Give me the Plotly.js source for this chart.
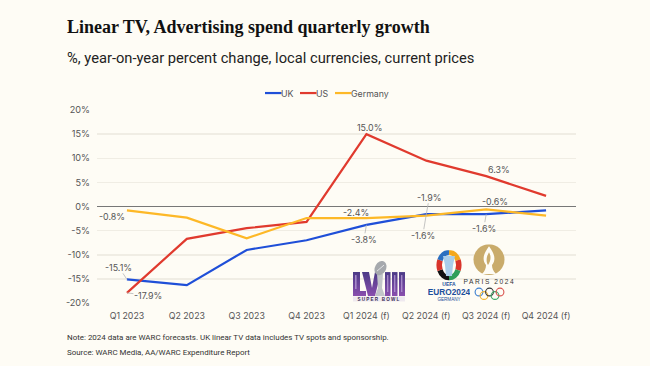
<!DOCTYPE html>
<html><head><meta charset="utf-8">
<script src="https://cdn.plot.ly/plotly-3.0.1.min.js"></script>
<style>html,body{margin:0;padding:0;background:#fefcf5}</style></head>
<body><div id="c" style="width:650px;height:366px"></div>
<script>
const categories=['Q1 2023','Q2 2023','Q3 2023','Q4 2023','Q1 2024 (f)','Q2 2024 (f)','Q3 2024 (f)','Q4 2024 (f)'];
const uk=[-15.1,-16.3,-9,-7,-3.8,-1.6,-1.6,-0.8];
const us=[-17.9,-6.7,-4.5,-3.2,15.0,9.5,6.3,2.2];
const germany=[-0.8,-2.3,-6.6,-2.4,-2.4,-1.9,-0.6,-1.9];
const yTicks=[-20,-15,-10,-5,0,5,10,15,20];
const W=650,H=366;
const F='Inter, "Noto Sans", sans-serif';
const R='Roboto, "Noto Sans", sans-serif';
const L={l:97,r:576,t:109.5,b:303};
const svgUri=s=>'data:image/svg+xml;utf8,'+encodeURIComponent(s);
const lvii=`<svg xmlns="http://www.w3.org/2000/svg" width="54" height="41" viewBox="0 0 54 41">
<defs><linearGradient id="g" x1="0" y1="0" x2="0" y2="1"><stop offset="0" stop-color="#4b3a86"/><stop offset="1" stop-color="#8a4fae"/></linearGradient></defs>
<g fill="url(#g)"><polygon points="1,11 8,11 8,30 14,30 14,35 1,35"/><polygon points="10,11 17,11 20,27 23,11 29,11 23,35 16,35"/><rect x="33" y="11" width="5.5" height="24"/><rect x="40" y="11" width="5.5" height="24"/><rect x="47" y="11" width="6" height="24"/></g>
<g fill="#b79bd6" opacity=".8"><rect x="3" y="14" width="1.6" height="14"/><rect x="35" y="14" width="1.4" height="17"/><rect x="42" y="14" width="1.4" height="17"/><rect x="49" y="14" width="1.4" height="17"/></g>
<rect x="1" y="35.5" width="52" height="5" fill="#efe9ef"/>
<text x="27" y="40" text-anchor="middle" font-family="Liberation Sans" font-weight="700" font-size="4.6" letter-spacing="1.2" fill="#3a2f55">SUPER BOWL</text>
<polygon points="25,13 31,13 30,27 33,35 23,35 26,27" fill="#c2c5c9"/>
<ellipse cx="28.5" cy="7" rx="5.5" ry="7.5" fill="#a6a9ad" transform="rotate(28 28.5 7)"/>
<line x1="25" y1="10" x2="32" y2="4" stroke="#e3e4e6" stroke-width="1"/></svg>`;
const euro=`<svg xmlns="http://www.w3.org/2000/svg" width="42" height="52" viewBox="0 0 42 52">
<ellipse cx="21" cy="15" rx="12" ry="15" fill="#fefcf5"/>
<g fill="none" stroke-width="5.5"><path d="M21 2.5 A9.5 12.5 0 0 1 30 10" stroke="#f4a81d"/><path d="M30 10 A9.5 12.5 0 0 1 30 20" stroke="#d9342b"/><path d="M30 20 A9.5 12.5 0 0 1 21 27.5" stroke="#2f9e5b"/><path d="M21 27.5 A9.5 12.5 0 0 1 12 20" stroke="#111"/><path d="M12 20 A9.5 12.5 0 0 1 12 10" stroke="#d9342b"/><path d="M12 10 A9.5 12.5 0 0 1 21 2.5" stroke="#2a6fc0"/></g>
<path d="M15 6 H27 L25 15 L24 26 H18 L17 15 Z" fill="#a9cdea"/>
<text x="21" y="36" text-anchor="middle" font-family="Liberation Sans" font-weight="700" font-size="5" fill="#1c4f9c">UEFA</text>
<text x="21" y="45" text-anchor="middle" font-family="Liberation Sans" font-weight="700" font-size="8.3" fill="#1c4f9c">EURO2024</text>
<text x="21" y="51" text-anchor="middle" font-family="Liberation Sans" font-size="4.6" fill="#1c4f9c">GERMANY</text></svg>`;
const paris=`<svg xmlns="http://www.w3.org/2000/svg" width="54" height="58" viewBox="0 0 54 58">
<circle cx="26" cy="15.5" r="15.5" fill="#c9ab6b"/>
<path d="M26 2 C20 10 19 16 23 21 C23 24 22 27 19 30 L33 30 C30 27 29 24 29 21 C33 16 32 10 26 2 Z" fill="#fefcf5"/>
<path d="M26 8 C23 13 23 18 25 21 C27 18 29 13 26 8 Z" fill="#c9ab6b"/>
<text x="26.5" y="40" text-anchor="middle" font-family="Liberation Sans" font-size="6.6" letter-spacing="1.6" fill="#333">PARIS 2024</text>
<g fill="none" stroke-width="1.1"><circle cx="16" cy="48" r="3.9" stroke="#3b7fd1"/><circle cx="21" cy="51.5" r="3.9" stroke="#f2b632"/><circle cx="26.5" cy="48" r="3.9" stroke="#333"/><circle cx="32" cy="51.5" r="3.9" stroke="#3fa865"/><circle cx="37" cy="48" r="3.9" stroke="#d9534f"/></g></svg>`;
const series=[['UK',uk,'#1f4fd8'],['US',us,'#e03a2e'],['Germany',germany,'#fdb827']];
const traces=series.map(([name,v,c])=>({type:'scatter',mode:'lines',name,x:categories,y:v,line:{color:c,width:2.2},hoverinfo:'skip',showlegend:false}));
const notes=[
 {i:0,v:-15.1,dx:-8,dy:-12,t:'-15.1%',arrow:1},
 {i:0,v:-17.9,dx:21,dy:2.5,t:'-17.9%',arrow:1},
 {i:0,v:-0.8,dx:-15,dy:6,t:'-0.8%',arrow:0},
 {i:4,v:15.0,dx:3.5,dy:-6.5,t:'15.0%',arrow:0},
 {i:4,v:-2.4,dx:-10,dy:-5.5,t:'-2.4%',arrow:0},
 {i:4,v:-3.8,dx:-2.5,dy:14.5,t:'-3.8%',arrow:1},
 {i:5,v:-1.6,dx:3,dy:-17,t:'-1.9%',arrow:1},
 {i:5,v:-1.6,dx:-3.5,dy:21,t:'-1.6%',arrow:1},
 {i:6,v:-0.6,dx:8.5,dy:-8,t:'-0.6%',arrow:0},
 {i:6,v:-1.6,dx:-2.4,dy:14,t:'-1.6%',arrow:1},
 {i:6,v:6.3,dx:12.6,dy:-6.5,t:'6.3%',arrow:0}
];
const anns=notes.map(n=>({x:categories[n.i],y:n.v,xref:'x',yref:'y',text:n.t,showarrow:!!n.arrow,
  ax:n.arrow?n.dx:0,ay:n.arrow?n.dy:0,arrowhead:0,arrowwidth:0.8,arrowcolor:'#b5b5b5',standoff:0,
  xshift:n.arrow?0:n.dx,yshift:n.arrow?0:-n.dy,xanchor:'center',yanchor:'middle',
  font:{family:F,size:8.9,color:'#555'},borderpad:0}));
const fx=x=>(x-L.l)/(L.r-L.l), fy=y=>(L.b-y)/(L.b-L.t);
function txt(x,y,t,font){return {xref:'paper',yref:'paper',x:fx(x),y:fy(y),text:t,showarrow:false,xanchor:'left',yanchor:'middle',font,align:'left',borderpad:0,borderwidth:0};}
anns.push(txt(66.5,26.5,'<b>Linear TV, Advertising spend quarterly growth</b>',{family:'"Liberation Serif",serif',size:18,color:'#111'}));
anns.push(txt(66.5,57,'%, year-on-year percent change, local currencies, current prices',{family:R,size:14.7,color:'#222'}));
anns.push(txt(66.5,338,'Note: 2024 data are WARC forecasts. UK linear TV data includes TV spots and sponsorship.',{family:R,size:7.95,color:'#333'}));
anns.push(txt(66.5,353,'Source: WARC Media, AA/WARC Expenditure Report',{family:R,size:7.95,color:'#333'}));
// legend drawn from the series names and colours
const legendX=[265,300,335];
const shapes=series.map(([name,v,c],i)=>({type:'line',xref:'paper',yref:'paper',x0:fx(legendX[i]),x1:fx(legendX[i]+16.5),y0:fy(92.5),y1:fy(92.5),line:{color:c,width:2.2}}));
series.forEach(([name],i)=>anns.push(txt(legendX[i]+16,92.5,name,{family:F,size:8.8,color:'#555'})));
const img=(s,x,y,w,h)=>({source:svgUri(s),xref:'paper',yref:'paper',x:fx(x),y:fy(y),sizex:w/(L.r-L.l),sizey:h/(L.b-L.t),xanchor:'left',yanchor:'top',sizing:'stretch',layer:'above'});
const layout={width:W,height:H,paper_bgcolor:'#fefcf5',plot_bgcolor:'#fefcf5',showlegend:false,
 margin:{l:L.l,r:W-L.r,t:L.t,b:H-L.b,pad:0},
 xaxis:{type:'category',categories,tickvals:categories,ticks:'',showgrid:false,zeroline:false,showline:false,tickfont:{family:F,size:8.8,color:'#555'},range:[-0.5,7.5],fixedrange:true,ticklabelstandoff:6},
 yaxis:{range:[-20,20],tickvals:yTicks,ticktext:yTicks.map(v=>v+'%'),ticks:'',gridcolor:'#f0ede4',gridwidth:1.5,zeroline:true,zerolinecolor:'#777',zerolinewidth:1,tickfont:{family:F,size:9.1,color:'#555'},fixedrange:true,ticklabelstandoff:6},
 annotations:anns,shapes,
 images:[img(lvii,352,261,54,41),img(euro,428,250,42,52),img(paris,463,244,54,58)]
};
Plotly.newPlot('c',traces,layout,{displayModeBar:false,staticPlot:true});
</script></body></html>
